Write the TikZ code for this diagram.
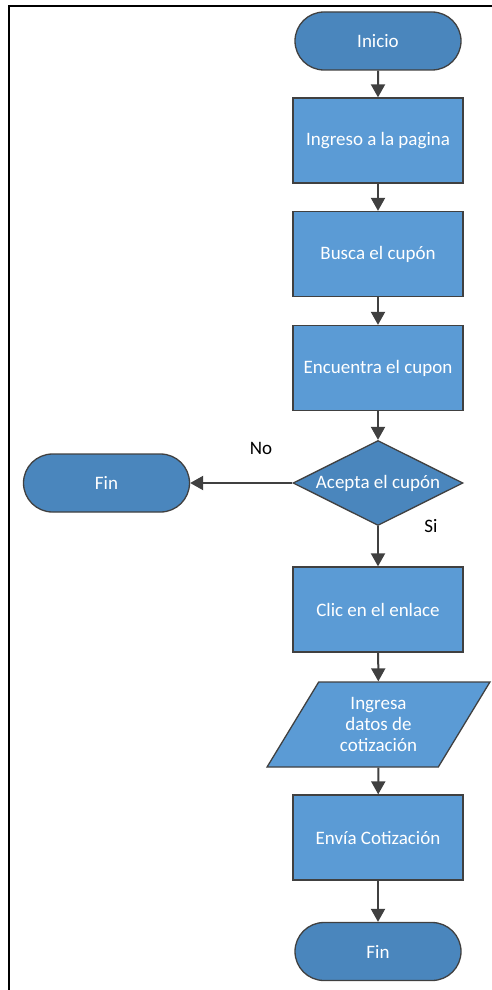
\documentclass[tikz,border=0pt]{standalone}
\usepackage{fontspec}
\setmainfont{Carlito}
\usetikzlibrary{arrows.meta,shapes.geometric,shapes.misc}
\definecolor{TermClr}{RGB}{74,134,189}
\definecolor{BoxClr}{RGB}{91,155,213}
\definecolor{EdgeClr}{RGB}{64,64,64}

\tikzset{
  base/.style={draw=EdgeClr,line width=1.3pt,text=white,
    font=\fontsize{19}{21}\selectfont,inner sep=2pt},
  term/.style={base,rounded rectangle,fill=TermClr,
    minimum width=170pt,minimum height=58pt},
  proc/.style={base,rectangle,fill=BoxClr,
    minimum width=170pt,minimum height=85pt},
  decide/.style={base,diamond,aspect=2,inner sep=0pt,fill=TermClr,
    minimum width=170pt,minimum height=85pt},
  inout/.style={base,trapezium,trapezium left angle=59,trapezium right angle=121,
    trapezium stretches=true,fill=BoxClr,align=center,
    minimum width=223pt,minimum height=85pt},
  flow/.style={draw=EdgeClr,line width=2pt,
    -{Triangle[width=14pt,length=13pt]}},
  lbl/.style={font=\fontsize{19}{21}\selectfont,text=black}
}

\begin{document}
\begin{tikzpicture}[x=1pt,y=-1pt]
\useasboundingbox (0,0) rectangle (492,990);

% Frame round the chart (only left and top edges show).
\draw[line width=2pt,black] (9,990) -- (9,6) -- (492,6);

% Main column of steps.
\node[term]   (inicio)    at (378,41)    {Inicio};
\node[proc]   (ingreso)   at (378,140.5) {Ingreso a la pagina};
\node[proc]   (busca)     at (378,254)   {Busca el cupón};
\node[proc]   (encuentra) at (378,368)   {Encuentra el cupon};
\node[decide] (acepta)    at (378,483)   {Acepta el cupón};
\node[proc]   (clic)      at (378,609.5) {Clic en el enlace};
\node[inout]  (datos)     at (378.5,724.5) {Ingresa\\datos de\\cotización};
\node[proc]   (envia)     at (378,837.5) {Envía Cotización};
\node[term]   (fin)       at (378,951.5) {Fin};

% Branch on the left.
\node[term] (finNo) at (106.5,483) {Fin};

\draw[flow] (inicio) -- (ingreso);
\draw[flow] (ingreso) -- (busca);
\draw[flow] (busca) -- (encuentra);
\draw[flow] (encuentra) -- (acepta);
\draw[flow] (acepta.west) -- (finNo.east);
\draw[flow] (acepta) -- (clic);
\draw[flow] (clic) -- (datos);
\draw[flow] (datos) -- (envia);
\draw[flow] (envia) -- (fin);

\node[lbl] (no) at (261,448) {No};
\node[lbl] (si) at (431,526) {Si};

\end{tikzpicture}
\end{document}
